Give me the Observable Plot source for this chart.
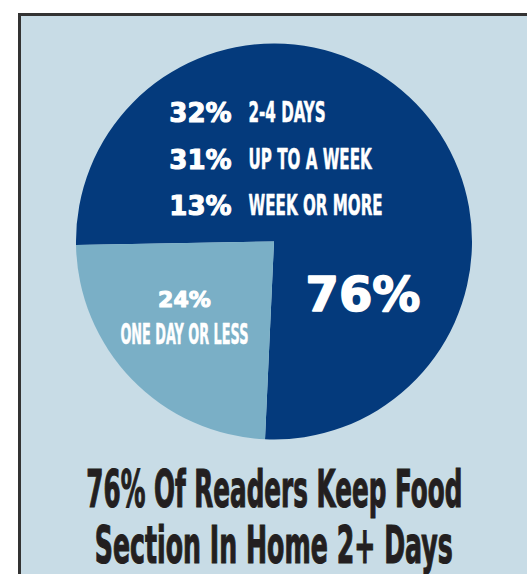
<!DOCTYPE html>
<html>
<head>
<meta charset="utf-8">
<script src="https://cdn.jsdelivr.net/npm/d3@7"></script>
<script src="https://cdn.jsdelivr.net/npm/@observablehq/plot@0.6"></script>
<style>
html, body { margin: 0; padding: 0; background: #ffffff; width: 527px; height: 574px; overflow: hidden; }
#panel { position: absolute; left: 18px; top: 13px; width: 540px; height: 600px; background: #c8dce6;
  border-left: 3px solid #333333; border-top: 3px solid #333333; }
#chart { position: absolute; left: 0; top: 0; }
#title { position: absolute; left: -226px; top: 461px; width: 1000px; color: #231f20;
  font-family: "Liberation Sans Narrow", "DejaVu Sans Condensed", "Liberation Sans", sans-serif;
  font-weight: bold; font-size: 52px; line-height: 56px; text-align: center;
  -webkit-text-stroke: 1.2px #231f20; }
#title div { white-space: nowrap; }
#title span { display: inline-block; transform-origin: 50% 50%; }
</style>
</head>
<body>
<div id="panel"></div>
<div id="chart"></div>
<div id="title"></div>
<script>
// ---- data ----
const sliceNames = ["2+ days", "ONE DAY OR LESS"];
const sliceValues = [76, 24];
const breakdownLabels = ["2-4 DAYS", "UP TO A WEEK", "WEEK OR MORE"];
const breakdownValues = [32, 31, 13];
const titleLines = ["76% Of Readers Keep Food", "Section In Home 2+ Days"];
const sliceColors = ["#043a7c", "#7aafc6"];

const slices = sliceNames.map((name, i) => ({name, value: sliceValues[i]}));
const breakdown = breakdownLabels.map((label, i) => ({label, value: breakdownValues[i]}));

const color = d3.scaleOrdinal(sliceNames, sliceColors);
const START = 269 * Math.PI / 180;

function pieMark(index, scales) {
  const {x, y} = scales;
  const cx = x(0), cy = y(0), r = x(1) - x(0);
  const arcs = d3.pie().sort(null).value(d => d.value)
    .startAngle(START).endAngle(START + 2 * Math.PI)(slices);
  const arc = d3.arc().innerRadius(0).outerRadius(r);
  const g = d3.create("svg:g").attr("transform", `translate(${cx},${cy})`);
  g.selectAll("path").data(arcs).join("path")
    .attr("d", arc).attr("fill", d => color(d.data.name));
  return g.node();
}

const NARROW = "Liberation Sans Narrow, DejaVu Sans Condensed, sans-serif";
const heavy = {fill: "white", stroke: "white", strokeWidth: 1.1, fontFamily: "DejaVu Sans, sans-serif",
  fontWeight: "bold", lineAnchor: "bottom"};
const narrow = {fill: "white", stroke: "white", strokeWidth: 0.5, fontFamily: NARROW,
  fontWeight: "bold", lineAnchor: "bottom"};

const chart = Plot.plot({
  width: 527, height: 445,
  marginLeft: 76, marginRight: 55, marginTop: 43.5, marginBottom: 5.5,
  x: {domain: [-1, 1], axis: null},
  y: {domain: [-1, 1], axis: null},
  style: {background: "transparent", overflow: "visible"},
  marks: [
    pieMark,
    Plot.text(breakdown, {...heavy, x: () => -0.217, y: (d, i) => 0.604 - i * 0.235,
      text: d => d.value + "%", textAnchor: "end", fontSize: 26}),
    Plot.text(breakdown, {...narrow, x: () => -0.131, y: (d, i) => 0.604 - i * 0.235,
      text: "label", textAnchor: "start", fontSize: 29}),
    Plot.text([slices[0]], {...heavy, strokeWidth: 1.6, x: () => 0.447, y: () => -0.346,
      text: d => d.value + "%", textAnchor: "middle", fontSize: 48}),
    Plot.text([slices[1]], {...heavy, x: () => -0.455, y: () => -0.326,
      text: d => d.value + "%", textAnchor: "middle", fontSize: 22}),
    Plot.text([slices[1]], {...narrow, x: () => -0.455, y: () => -0.513,
      text: "name", textAnchor: "middle", fontSize: 28})
  ]
});
document.getElementById("chart").appendChild(chart);

// condense the narrow labels horizontally (factor per font size)
const squeeze = {"29": 0.58, "28": 0.51};
chart.querySelectorAll("g[font-family]").forEach(g => {
  if (g.getAttribute("font-family") !== NARROW) return;
  const k = squeeze[g.getAttribute("font-size")] || 0.58;
  g.querySelectorAll("text").forEach(t => {
    const len = t.getComputedTextLength();
    t.setAttribute("textLength", (len * k).toFixed(1));
    t.setAttribute("lengthAdjust", "spacingAndGlyphs");
  });
});

// title
const titleTargets = [376, 358];
const titleEl = document.getElementById("title");
titleLines.forEach((line, i) => {
  const div = document.createElement("div");
  const span = document.createElement("span");
  span.textContent = line;
  div.appendChild(span);
  titleEl.appendChild(div);
  const w = span.getBoundingClientRect().width;
  span.style.transform = `scaleX(${titleTargets[i] / w})`;
});
</script>
</body>
</html>
